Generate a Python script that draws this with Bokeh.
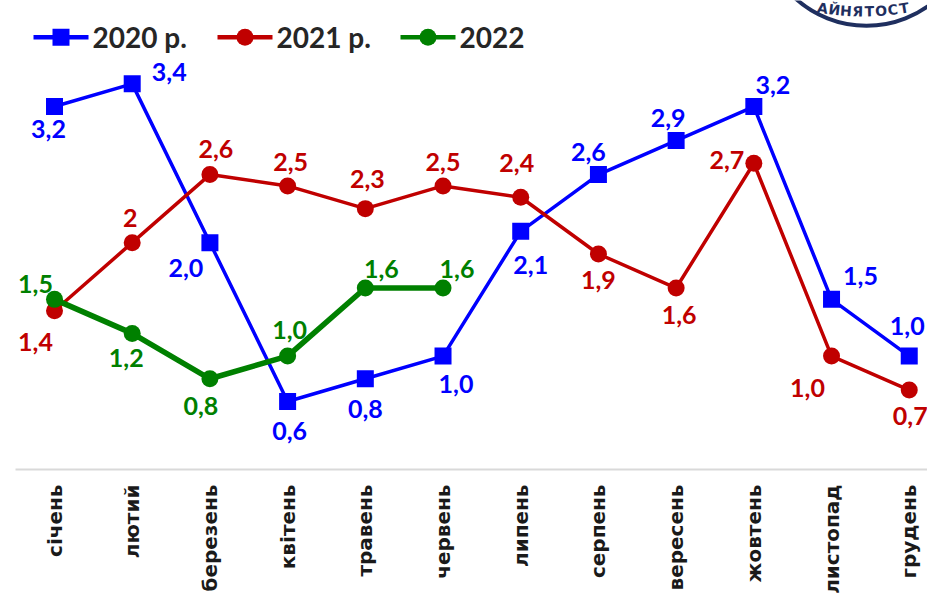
import math
from bokeh.plotting import figure
from bokeh.models import Range1d, ColumnDataSource, FixedTicker
from bokeh.embed import file_html
from bokeh.resources import INLINE
from bokeh.core.properties import value

# ---------------- data ----------------
months = ["січень", "лютий", "березень", "квітень", "травень", "червень",
          "липень", "серпень", "вересень", "жовтень", "листопад", "грудень"]
y2020 = [3.2, 3.4, 2.0, 0.6, 0.8, 1.0, 2.1, 2.6, 2.9, 3.2, 1.5, 1.0]
y2021 = [1.4, 2.0, 2.6, 2.5, 2.3, 2.5, 2.4, 1.9, 1.6, 2.7, 1.0, 0.7]
y2022 = [1.5, 1.2, 0.8, 1.0, 1.6, 1.6]
series_names = ["2020 р.", "2021 р.", "2022"]
logo_text = "АЙНЯТОСТ"


def fmt(v):
    return f"{v:.1f}".replace(".", ",")


lab2020 = [fmt(v) for v in y2020]
lab2021 = [fmt(v) for v in y2021]
lab2021[1] = "2"
lab2022 = [fmt(v) for v in y2022]

# ---------------- styles ----------------
colors = ["#0000FF", "#C00000", "#008000"]
markers = ["square", "circle", "circle"]
widths = [3.5, 3.5, 5.5]
# label offsets in screen px (dx right, dy down)
off2020 = [(-6, 22), (37, -12), (-24, 25), (2, 30), (0, 30), (13, 28),
           (10, 34), (-10, -23), (-8, -23), (19, -22), (29, -23), (-2, -30)]
off2021 = [(-19, 31), (-2, -25), (6, -26), (3, -24), (2, -30), (0, -24),
           (-4, -34), (0, 26), (3, 27), (-27, -3), (-24, 32), (1, 26)]
off2022 = [(-19, -15), (-6, 25), (-9, 27), (2, -26), (16, -19), (14, -19)]
LABEL_FONT = "Lato"
TEXT_DARK = "#262626"
NAVY = "#1F2F5F"

W, H = 927, 596
FRAME_L, FRAME_B = 15, 471
p = figure(width=W, height=H, title=None, output_backend="svg",
           toolbar_location=None, y_axis_location=None,
           x_range=Range1d(-0.502, 11.235), y_range=Range1d(0, 4.135),
           min_border_left=FRAME_L, min_border_right=0, min_border_top=0,
           min_border_bottom=H - FRAME_B)
p.extra_x_ranges = {"px": Range1d(FRAME_L, W)}
p.extra_y_ranges = {"py": Range1d(FRAME_B, 0)}

p.xgrid.visible = False
p.ygrid.visible = False
p.outline_line_color = None
p.background_fill_color = "white"
p.border_fill_color = "white"

ax = p.xaxis[0]
ax.ticker = FixedTicker(ticks=list(range(len(months))))
ax.major_label_overrides = {i: m for i, m in enumerate(months)}
ax.major_label_orientation = math.pi / 2
ax.major_label_text_font = "DejaVu Sans"
ax.major_label_text_font_style = "bold"
ax.major_label_text_font_size = "20px"
ax.major_label_text_color = "#1a1a1a"
ax.major_label_standoff = 15
ax.major_tick_out = 0
ax.major_tick_in = 0
ax.minor_tick_out = 0
ax.minor_tick_in = 0
ax.major_tick_line_color = None
ax.minor_tick_line_color = None
ax.axis_line_color = "#d9d9d9"
ax.axis_line_width = 2

series = [(y2020, lab2020, off2020), (y2021, lab2021, off2021), (y2022, lab2022, off2022)]
for k, (vals, labs, offs) in enumerate(series):
    xs = list(range(len(vals)))
    src = ColumnDataSource(dict(x=xs, y=vals, text=labs,
                                dx=[o[0] for o in offs], dy=[o[1] for o in offs]))
    p.line("x", "y", source=src, line_color=colors[k], line_width=widths[k])
    p.scatter("x", "y", source=src, marker=markers[k], size=17,
              fill_color=colors[k], line_color=None)
    p.text("x", "y", text="text", source=src, x_offset="dx", y_offset="dy",
           text_font=value(LABEL_FONT), text_font_style="bold",
           text_font_size="25px", text_color=colors[k],
           text_align="center", text_baseline="middle")

# ---------------- legend (screen px) ----------------
leg_x0 = [33, 217, 400]
leg_len = 55
leg_y = 37
for k in range(3):
    p.segment(x0=[leg_x0[k]], x1=[leg_x0[k] + leg_len], y0=[leg_y], y1=[leg_y],
              line_color=colors[k], line_width=4.5,
              x_range_name="px", y_range_name="py")
    p.scatter(x=[leg_x0[k] + leg_len / 2], y=[leg_y], marker=markers[k], size=17,
              fill_color=colors[k], line_color=None,
              x_range_name="px", y_range_name="py")
    p.text(x=[leg_x0[k] + leg_len + 4], y=[leg_y], text=[series_names[k]],
           text_font=value(LABEL_FONT), text_font_style="bold",
           text_font_size="28px", text_color=TEXT_DARK,
           text_align="left", text_baseline="middle",
           x_range_name="px", y_range_name="py")

# ---------------- logo fragment (screen px) ----------------
p.circle(x=[866], y=[-81], radius=106, fill_color=None, line_color=NAVY,
         line_width=4, x_range_name="px", y_range_name="py")
r_txt = 250
tcx, tcy = 863, 11 - r_txt
step = 11.7
n = len(logo_text)
lx, ly, la = [], [], []
for i, ch in enumerate(logo_text):
    th = ((i - (n - 1) / 2) * step) / r_txt
    lx.append(tcx + r_txt * math.sin(th))
    ly.append(tcy + r_txt * math.cos(th))
    la.append(th)
p.text(x=lx, y=ly, text=list(logo_text), angle=la,
       text_font=value("DejaVu Sans"), text_font_style="bold",
       text_font_size="14px", text_color=NAVY,
       text_align="center", text_baseline="middle",
       x_range_name="px", y_range_name="py")

open("out.html", "w").write(file_html(p, INLINE))
